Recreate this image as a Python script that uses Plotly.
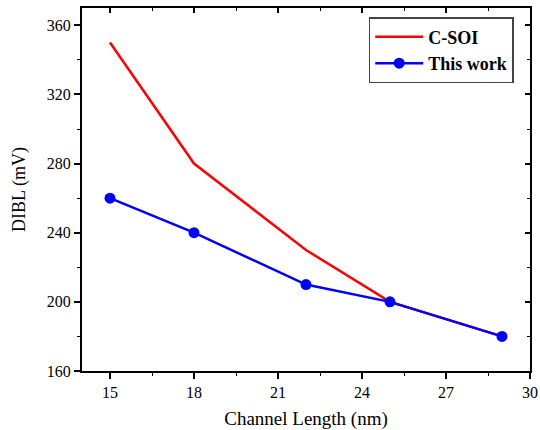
import plotly.graph_objects as go

channel_length = [15, 18, 22, 25, 29]
csoi_dibl = [350, 280, 230, 200, 180]
this_work_dibl = [260, 240, 210, 200, 180]

x_ticks = [15, 18, 21, 24, 27, 30]
y_ticks = [160, 200, 240, 280, 320, 360]

FONT = "Liberation Serif"

fig = go.Figure()
fig.add_trace(go.Scatter(x=channel_length, y=csoi_dibl, mode="lines", name="C-SOI",
                         line=dict(color="#ff0000", width=2.5)))
fig.add_trace(go.Scatter(x=channel_length, y=this_work_dibl, mode="lines+markers", name="This work",
                         line=dict(color="#0000ff", width=2.5),
                         marker=dict(color="#0000ff", size=11)))
# helper trace so mirrored inside-tick axes render
fig.add_trace(go.Scatter(x=[None], y=[None], xaxis="x2", yaxis="y2", showlegend=False, hoverinfo="skip"))

axis_common = dict(showgrid=False, zeroline=False, showline=True, linecolor="black", linewidth=2,
                   tickcolor="black", tickwidth=1.5, automargin=False,
                   tickfont=dict(family=FONT, size=16, color="black"))

fig.update_layout(
    width=540, height=430,
    margin=dict(l=82, r=10, t=8, b=59),
    paper_bgcolor="white", plot_bgcolor="white",
    font=dict(family=FONT, color="black"),
    xaxis=dict(range=[14, 30], tickvals=x_ticks, ticks="outside", ticklen=6,
               minor=dict(dtick=1.5, tick0=0, ticks="outside", ticklen=3, tickcolor="black", tickwidth=1),
               title=dict(text="Channel Length (nm)", font=dict(family=FONT, size=19), standoff=13),
               **axis_common),
    yaxis=dict(range=[160, 370], tickvals=y_ticks, ticks="outside", ticklen=6,
               minor=dict(dtick=20, tick0=0, ticks="outside", ticklen=3, tickcolor="black", tickwidth=1),
               title=dict(text="DIBL (mV)", font=dict(family=FONT, size=18), standoff=16),
               **axis_common),
    xaxis2=dict(range=[14, 30], overlaying="x", side="top", anchor="y2", tickvals=x_ticks,
                ticks="inside", ticklen=5, showticklabels=False,
                minor=dict(dtick=1.5, tick0=0, ticks="inside", ticklen=3, tickcolor="black", tickwidth=1),
                **axis_common),
    yaxis2=dict(range=[160, 370], overlaying="y", side="right", anchor="x2", tickvals=y_ticks,
                ticks="inside", ticklen=5, showticklabels=False,
                minor=dict(dtick=20, tick0=0, ticks="inside", ticklen=3, tickcolor="black", tickwidth=1),
                **axis_common),
    legend=dict(x=0.64, y=0.975, xanchor="left", yanchor="top",
                bordercolor="#444", borderwidth=1.5, bgcolor="white",
                font=dict(family=FONT, size=18, color="black", weight="bold"),
                tracegroupgap=0, itemwidth=48),
    showlegend=True,
)

fig.write_html("out.html")
